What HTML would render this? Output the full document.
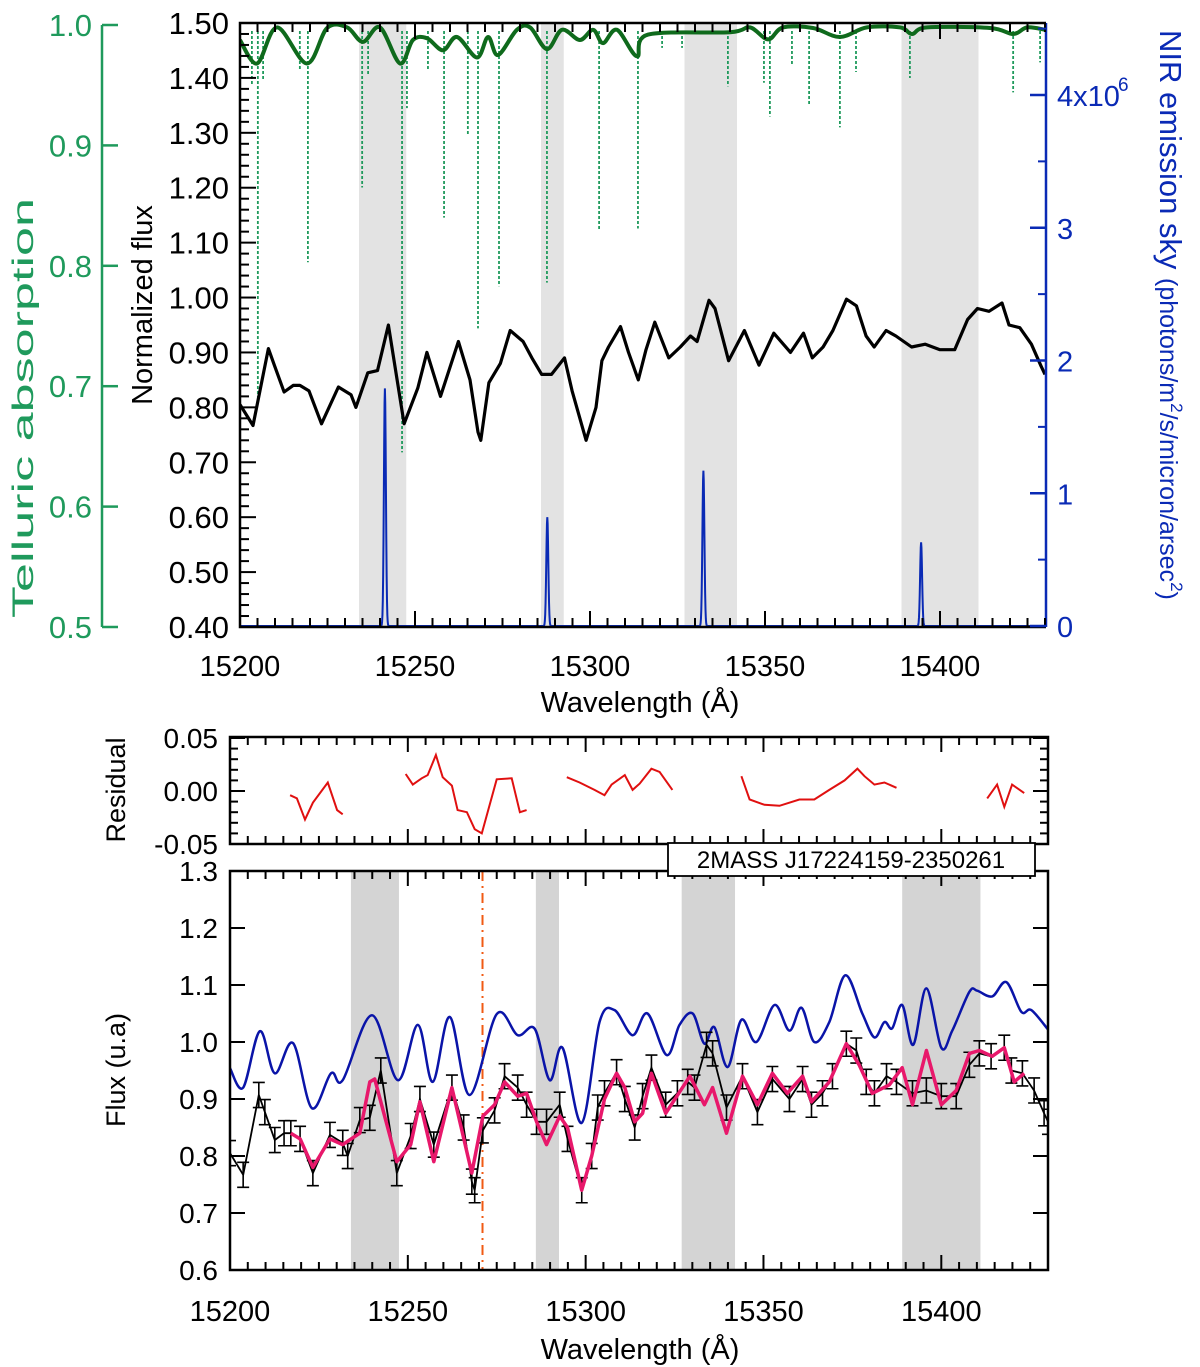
<!DOCTYPE html>
<html><head><meta charset="utf-8"><style>
html,body{margin:0;padding:0;background:#fff}
svg{display:block;font-family:"Liberation Sans",sans-serif}
</style></head><body>
<svg id="chart" width="1200" height="1367" viewBox="0 0 1200 1367">
<g id="g"></g>
</svg>
<script>
// ---------- DATA ----------
const bands = [[15234,15247.5],[15286,15292.5],[15327,15342],[15389,15411]];
const obsLambda = [15200,15203.7,15208.1,15209.8,15212.6,15215.2,15217.1,15219.7,15223.3,15228.1,15231.7,15233.1,15236.5,15239.3,15242.4,15246.9,15250.8,15253.4,15257.3,15262.4,15265.7,15268,15268.8,15271.1,15274.4,15277.2,15280.9,15283.4,15286.2,15289,15292.7,15294.9,15298.9,15301.7,15303.4,15305.3,15308.7,15311,15313.8,15316,15318.5,15322.5,15325.8,15328.7,15330.6,15334,15335.7,15339.6,15344.1,15348.3,15352.5,15357.3,15361,15363.5,15366.6,15369.4,15373.3,15376.1,15378.9,15381.2,15384.6,15387.4,15391.9,15395.8,15400,15404.2,15407.9,15410.7,15414,15417.7,15419.7,15422.8,15426.1,15428.9,15430];
const obsFlux = [0.805,0.767,0.907,0.877,0.828,0.84,0.84,0.83,0.77,0.837,0.823,0.80,0.863,0.867,0.95,0.77,0.835,0.9,0.82,0.92,0.85,0.755,0.74,0.845,0.88,0.94,0.92,0.89,0.86,0.86,0.89,0.83,0.74,0.80,0.885,0.91,0.947,0.9,0.85,0.905,0.955,0.89,0.91,0.93,0.92,0.995,0.98,0.885,0.94,0.877,0.935,0.9,0.935,0.89,0.91,0.94,0.997,0.985,0.93,0.91,0.94,0.93,0.91,0.915,0.905,0.905,0.96,0.98,0.975,0.99,0.95,0.945,0.915,0.875,0.86];
const modelLambda = [15217.1,15219.7,15223.3,15228.1,15231.7,15236.5,15239.3,15240.7,15246.9,15250.8,15253.4,15257.3,15262.4,15268,15271.1,15274.4,15277.2,15280.9,15283.4,15286.2,15289,15292.7,15294.9,15298.9,15301.7,15305.3,15308.7,15311,15313.8,15316,15318.5,15322.5,15329.3,15333.4,15335.7,15339.6,15344.1,15348.3,15352.5,15356.7,15361,15363.5,15368.5,15373.3,15376.9,15380.6,15385.4,15389,15391.9,15395.8,15400,15404.2,15407.9,15410.7,15414.3,15417.7,15420.5,15423.3];
const modelFlux = [0.84,0.83,0.78,0.83,0.82,0.84,0.93,0.935,0.79,0.82,0.895,0.79,0.92,0.77,0.87,0.89,0.93,0.905,0.91,0.86,0.82,0.87,0.85,0.74,0.80,0.90,0.945,0.92,0.86,0.875,0.945,0.875,0.94,0.89,0.92,0.84,0.94,0.89,0.945,0.91,0.94,0.895,0.93,0.997,0.96,0.91,0.925,0.955,0.89,0.985,0.89,0.915,0.98,0.985,0.975,0.99,0.93,0.945];
const blueLambda = [15200,15203.7,15208.4,15212.6,15217.7,15223,15228.4,15231.7,15239.9,15247.2,15252.8,15257,15261.8,15267.4,15275,15280.9,15285.7,15289.9,15293.5,15298.9,15303.9,15308.1,15313.2,15317.4,15322.8,15326.4,15330.1,15333.4,15336.2,15339.9,15343.8,15348,15353.1,15357.3,15360.7,15364.3,15368.5,15373,15377.8,15381.2,15384,15386.2,15389,15392.1,15395.8,15400,15403.1,15407.9,15410.1,15414.3,15418.3,15422.5,15425.3,15430];
const blueFlux = [0.954,0.92,1.019,0.945,0.998,0.884,0.945,0.933,1.047,0.933,1.03,0.93,1.044,0.907,1.049,1.012,1.023,0.933,0.99,0.858,1.035,1.056,1.012,1.05,0.977,1.03,1.05,0.997,1.026,0.956,1.039,1.0,1.065,1.02,1.06,1.0,1.035,1.117,1.05,1.008,1.035,1.024,1.065,0.995,1.094,0.99,1.02,1.088,1.09,1.08,1.105,1.053,1.056,1.022];
const resLambda = [15216.9,15218.8,15221.1,15223.3,15227.5,15230.1,15231.7,null,15249.4,15251.4,15253.9,15255.6,15257.9,15259.8,15262.4,15264,15266.6,15268.8,15270.8,15275,15279.2,15281.5,15283.4,null,15294.7,15298.3,15302.5,15305.3,15307.3,15311,15313.2,15315.2,15318.5,15320.8,15324.4,null,15343.8,15346.1,15350.3,15354.5,15360.1,15364.3,15368.5,15372.8,15376.4,15378.4,15381.2,15384,15387.4,null,15412.9,15415.7,15417.7,15419.9,15423.3];
const resValue = [-0.004,-0.007,-0.027,-0.011,0.008,-0.018,-0.022,null,0.016,0.006,0.012,0.015,0.034,0.013,0.005,-0.018,-0.02,-0.036,-0.04,0.011,0.012,-0.02,-0.018,null,0.013,0.008,0.001,-0.004,0.006,0.015,0.001,0.007,0.021,0.018,0.001,null,0.014,-0.008,-0.013,-0.014,-0.008,-0.008,0.001,0.01,0.021,0.014,0.006,0.008,0.003,null,-0.007,0.006,-0.015,0.006,-0.002];
const tellLambda = [15200,15204.9,15210.6,15219.1,15224.9,15230.6,15235.1,15240,15245.7,15249.4,15253.4,15258,15262,15267.7,15270.9,15273.7,15279.1,15282.9,15287.7,15292,15297.1,15300.9,15303.7,15307.7,15313.4,15316.6,15340,15345.7,15350.9,15355.1,15363.7,15371.4,15379.1,15388.6,15392,15396.3,15414.3,15420.9,15424.9,15430];
const tellValue = [0.9875,0.968,0.998,0.968,0.9975,0.998,0.986,0.998,0.968,0.9875,0.989,0.979,0.99,0.973,0.99,0.975,0.996,0.998,0.98,0.996,0.9875,0.996,0.985,0.996,0.974,0.992,0.994,0.998,0.988,0.998,0.9975,0.99,0.998,0.998,0.9925,0.998,0.9975,0.9925,0.998,0.996];
const lineLambda = [15203.4,15205.1,15206.6,15217.1,15219.4,15234.9,15236.6,15246.3,15247.7,15253.7,15258.3,15265.1,15268,15274,15287.7,15302.6,15313.7,15320.6,15326.3,15339.4,15349.7,15351.4,15357.7,15362.6,15371.4,15376,15391.4,15420.9,15428.6];
const lineDepth = [0.95,0.687,0.954,0.963,0.803,0.865,0.958,0.645,0.931,0.963,0.84,0.909,0.748,0.783,0.786,0.83,0.831,0.981,0.981,0.949,0.952,0.924,0.967,0.934,0.915,0.961,0.956,0.944,0.969];
const skyLambda = [15241.4,15287.8,15332.4,15394.6];
const skyPeak = [1.79,0.82,1.17,0.63];
const xTicks = [15200,15250,15300,15350,15400];
const normTicks = [1.5,1.4,1.3,1.2,1.1,1.0,0.9,0.8,0.7,0.6,0.5,0.4];
const tellTicks = [1.0,0.9,0.8,0.7,0.6,0.5];
const skyTicks = [0,1,2,3,4];
const fluxTicks = [1.3,1.2,1.1,1.0,0.9,0.8,0.7,0.6];
const resTicks = [0.05,0.0,-0.05];

// ---------- AXES ----------
const tX = l => 240 + (l - 15200) * 3.5;
const tY = v => 627 - (v - 0.4) * 549.1;
const gY = v => 25 + (1 - v) * 1204;
const sY = v => 626 - v * 132.75;
const bX = l => 230 + (l - 15200) * 3.5565;
const fY = v => 1270 - (v - 0.6) * 570;
const rY = v => 791 - v * 1060;

const NS = "http://www.w3.org/2000/svg";
const G = document.getElementById('g');
function mk(tag, at, parent) {
  const e = document.createElementNS(NS, tag);
  for (const k in at) e.setAttribute(k, at[k]);
  (parent || G).appendChild(e);
  return e;
}
function txt(x, y, s, at) {
  const e = mk('text', Object.assign({x: x, y: y}, at));
  e.textContent = s;
  return e;
}
function linePath(xs, ys, fx, fy) {
  let d = '', pen = false;
  for (let i = 0; i < xs.length; i++) {
    if (xs[i] === null) { pen = false; continue; }
    d += (pen ? 'L' : 'M') + fx(xs[i]).toFixed(1) + ',' + fy(ys[i]).toFixed(1);
    pen = true;
  }
  return d;
}
function smoothPath(xs, ys, fx, fy) {
  const P = xs.map((x, i) => [fx(x), fy(ys[i])]);
  let d = 'M' + P[0][0] + ',' + P[0][1];
  for (let i = 0; i < P.length - 1; i++) {
    const p0 = P[Math.max(0, i - 1)], p1 = P[i], p2 = P[i + 1], p3 = P[Math.min(P.length - 1, i + 2)];
    const c1 = [p1[0] + (p2[0] - p0[0]) / 6, p1[1] + (p2[1] - p0[1]) / 6];
    const c2 = [p2[0] - (p3[0] - p1[0]) / 6, p2[1] - (p3[1] - p1[1]) / 6];
    d += 'C' + c1[0].toFixed(1) + ',' + c1[1].toFixed(1) + ' ' + c2[0].toFixed(1) + ',' + c2[1].toFixed(1) + ' ' + p2[0].toFixed(1) + ',' + p2[1].toFixed(1);
  }
  return d;
}

// ================= TOP PANEL =================
const clipT = mk('clipPath', {id: 'clipT'});
mk('rect', {x: 240, y: 23, width: 806, height: 604}, clipT);
const clipB = mk('clipPath', {id: 'clipB'});
mk('rect', {x: 230, y: 871, width: 818, height: 399}, clipB);

bands.forEach(b => {
  const r = mk('rect', {x: tX(b[0]), y: 23, width: tX(b[1]) - tX(b[0]), height: 604, fill: '#e3e3e3'});
  
  
});

lineLambda.forEach((l, i) => {
  const e = mk('line', {x1: tX(l), x2: tX(l), y1: gY(0.995), y2: gY(lineDepth[i]), stroke: '#1f9a5c', 'stroke-width': 1.8, 'stroke-dasharray': '3,2'});
  
  
});
const tl = mk('path', {d: smoothPath(tellLambda, tellValue, tX, gY), fill: 'none', stroke: '#0f6a1c', 'stroke-width': 4, 'clip-path': 'url(#clipT)'});



let sd = '';
for (let l = 15200; l <= 15430; l += 0.1) {
  let v = 0;
  skyLambda.forEach((c, i) => { v += skyPeak[i] * Math.exp(-Math.pow((l - c) / 0.4, 2)); });
  sd += (sd ? 'L' : 'M') + tX(l).toFixed(2) + ',' + sY(v).toFixed(2);
}
const sk = mk('path', {d: sd, fill: 'none', stroke: '#0a2ab5', 'stroke-width': 2});



const nf = mk('path', {d: linePath(obsLambda, obsFlux, tX, tY), fill: 'none', stroke: '#000', 'stroke-width': 3.2, 'stroke-linejoin': 'round', 'clip-path': 'url(#clipT)'});



mk('path', {d: 'M1046,23 L240,23 L240,627 L1046,627', fill: 'none', stroke: '#000', 'stroke-width': 2.5});
mk('line', {x1: 1046, y1: 23, x2: 1046, y2: 627, stroke: '#0a2ab5', 'stroke-width': 2.5});
for (let l = 15200; l <= 15430; l += 5) {
  const major = (l % 50 === 0);
  const len = major ? 16 : 9;
  mk('line', {x1: tX(l), x2: tX(l), y1: 627, y2: 627 - len, stroke: '#000', 'stroke-width': 2});
  mk('line', {x1: tX(l), x2: tX(l), y1: 23, y2: 23 + len, stroke: '#000', 'stroke-width': 2});
}
xTicks.forEach(t => {
  const e = txt(tX(t), 676, String(t), {'font-size': 29, 'text-anchor': 'middle', fill: '#000'});
  
  
});
for (let v = 0.4; v <= 1.501; v += 0.02) {
  const major = Math.abs(v * 10 - Math.round(v * 10)) < 0.01;
  mk('line', {x1: 240, x2: 240 + (major ? 16 : 9), y1: tY(v), y2: tY(v), stroke: '#000', 'stroke-width': 2});
}
normTicks.forEach(t => {
  const e = txt(229, tY(t) + 11, t.toFixed(2), {'font-size': 31, 'text-anchor': 'end', fill: '#000'});
  
  
});
mk('line', {x1: 102, x2: 102, y1: gY(1.0), y2: gY(0.5), stroke: '#1f9a5c', 'stroke-width': 2.5});
tellTicks.forEach(t => {
  mk('line', {x1: 102, x2: 118, y1: gY(t), y2: gY(t), stroke: '#1f9a5c', 'stroke-width': 2.5});
  const e = txt(92, gY(t) + 11, t.toFixed(1), {'font-size': 31, 'text-anchor': 'end', fill: '#1f9a5c'});
  
  
});
skyTicks.forEach(t => {
  mk('line', {x1: 1046, x2: 1030, y1: sY(t), y2: sY(t), stroke: '#0a2ab5', 'stroke-width': 2.5});
});
for (let v = 0.5; v < 4.6; v += 1) mk('line', {x1: 1046, x2: 1038, y1: sY(v), y2: sY(v), stroke: '#0a2ab5', 'stroke-width': 2});
skyTicks.forEach(t => {
  const e = txt(1057, sY(t) + 11, t === 4 ? '4x10' : String(t), {'font-size': 29, fill: '#0a2ab5'});
  
  
  if (t === 4) {
    const s = txt(1118, sY(t) - 4, '6', {'font-size': 19, fill: '#0a2ab5'});
    
    
  }
});
</script>
<script>
(function(){
  const NS = "http://www.w3.org/2000/svg";
  const G = document.getElementById('g');
  function t(x, y, s, at, name) {
    const e = document.createElementNS(NS, 'text');
    e.setAttribute('x', x); e.setAttribute('y', y);
    for (const k in at) e.setAttribute(k, at[k]);
    e.innerHTML = s;
    
    
    G.appendChild(e);
    return e;
  }
  t(0, 0, 'Telluric absorption', {transform: 'translate(33,408) rotate(-90)', 'font-size': 30, 'text-anchor': 'middle', fill: '#1f9a5c', textLength: 420, lengthAdjust: 'spacingAndGlyphs'}, 'telluric-axis-title');
  t(0, 0, 'Normalized flux', {transform: 'translate(152,305) rotate(-90)', 'font-size': 29, 'text-anchor': 'middle', fill: '#000'}, 'normalized-flux-axis-title');
  t(0, 0, 'NIR emission sky <tspan font-size="25">(photons/m</tspan><tspan font-size="17" dy="-11">2</tspan><tspan font-size="25" dy="11">/s/micron/arsec</tspan><tspan font-size="17" dy="-11">2</tspan><tspan font-size="25" dy="11">)</tspan>', {transform: 'translate(1160,30) rotate(90)', 'font-size': 31, fill: '#0a2ab5'}, 'sky-axis-title');
  t(640, 712, 'Wavelength (Å)', {'font-size': 29, 'text-anchor': 'middle', fill: '#000'}, 'top-x-axis-title');
  t(640, 1359, 'Wavelength (Å)', {'font-size': 29, 'text-anchor': 'middle', fill: '#000'}, 'bottom-x-axis-title');
  t(0, 0, 'Residual', {transform: 'translate(125,790) rotate(-90)', 'font-size': 27, 'text-anchor': 'middle', fill: '#000'}, 'residual-axis-title');
  t(0, 0, 'Flux (u.a)', {transform: 'translate(125,1070) rotate(-90)', 'font-size': 27, 'text-anchor': 'middle', fill: '#000'}, 'flux-axis-title');
})();
</script>
<script>
(function(){
mk('rect', {x: 230, y: 737, width: 818, height: 107, fill: 'none', stroke: '#000', 'stroke-width': 2.5});
for (let l = 15200; l <= 15430; l += 5) {
  const major = (l % 50 === 0);
  const len = major ? 15 : 8;
  mk('line', {x1: bX(l), x2: bX(l), y1: 737, y2: 737 + len, stroke: '#000', 'stroke-width': 2});
  mk('line', {x1: bX(l), x2: bX(l), y1: 844, y2: 844 - len, stroke: '#000', 'stroke-width': 2});
}
for (let k = -5; k <= 5; k++) {
  const v = k / 100, len = (k % 5 === 0) ? 15 : 8;
  mk('line', {x1: 230, x2: 230 + len, y1: rY(v), y2: rY(v), stroke: '#000', 'stroke-width': 2});
  mk('line', {x1: 1048, x2: 1048 - len, y1: rY(v), y2: rY(v), stroke: '#000', 'stroke-width': 2});
}
resTicks.forEach(tk => {
  const e = txt(218, rY(tk) + 10, tk.toFixed(2), {'font-size': 28, 'text-anchor': 'end', fill: '#000'});
  
  
});
const rp = mk('path', {d: linePath(resLambda, resValue, bX, rY), fill: 'none', stroke: '#e01010', 'stroke-width': 2});



bands.forEach(b => {
  const r = mk('rect', {x: bX(b[0]), y: 871, width: bX(b[1]) - bX(b[0]), height: 399, fill: '#d4d4d4'});
  
  
});
const vl = mk('line', {x1: bX(15271), x2: bX(15271), y1: 871, y2: 1270, stroke: '#f05a14', 'stroke-width': 2, 'stroke-dasharray': '10,5,2,5'});



const bl = mk('path', {d: smoothPath(blueLambda, blueFlux, bX, fY), fill: 'none', stroke: '#0a14a8', 'stroke-width': 2.5, 'clip-path': 'url(#clipB)'});



obsLambda.forEach((l, i) => {
  const x = bX(l), y1 = fY(obsFlux[i] + 0.022), y2 = fY(obsFlux[i] - 0.022);
  const e = mk('path', {d: `M${x},${y1}V${y2}M${x-6},${y1}H${x+6}M${x-6},${y2}H${x+6}`, stroke: '#000', 'stroke-width': 1.6, fill: 'none', 'clip-path': 'url(#clipB)'});
  
  
});
const ob = mk('path', {d: linePath(obsLambda, obsFlux, bX, fY), fill: 'none', stroke: '#000', 'stroke-width': 1.8, 'clip-path': 'url(#clipB)'});


const md = mk('path', {d: linePath(modelLambda, modelFlux, bX, fY), fill: 'none', stroke: '#e8186b', 'stroke-width': 3.5, 'stroke-linejoin': 'round'});



mk('rect', {x: 230, y: 871, width: 818, height: 399, fill: 'none', stroke: '#000', 'stroke-width': 2.5});
for (let l = 15200; l <= 15430; l += 5) {
  const major = (l % 50 === 0);
  const len = major ? 15 : 8;
  mk('line', {x1: bX(l), x2: bX(l), y1: 1270, y2: 1270 - len, stroke: '#000', 'stroke-width': 2});
  mk('line', {x1: bX(l), x2: bX(l), y1: 871, y2: 871 + len, stroke: '#000', 'stroke-width': 2});
}
fluxTicks.forEach(tk => {
  mk('line', {x1: 230, x2: 245, y1: fY(tk), y2: fY(tk), stroke: '#000', 'stroke-width': 2});
  mk('line', {x1: 1048, x2: 1033, y1: fY(tk), y2: fY(tk), stroke: '#000', 'stroke-width': 2});
  const e = txt(218, fY(tk) + 10, tk.toFixed(1), {'font-size': 28, 'text-anchor': 'end', fill: '#000'});
  
  
});
xTicks.forEach(tk => {
  const e = txt(bX(tk), 1321, String(tk), {'font-size': 29, 'text-anchor': 'middle', fill: '#000'});
  
  
});
const lg = mk('rect', {x: 668, y: 843, width: 367, height: 33, fill: '#fff', stroke: '#000', 'stroke-width': 1.8});


const lt = txt(851, 868, '2MASS J17224159-2350261', {'font-size': 24, 'text-anchor': 'middle', fill: '#000'});


})();
</script>
</body></html>
